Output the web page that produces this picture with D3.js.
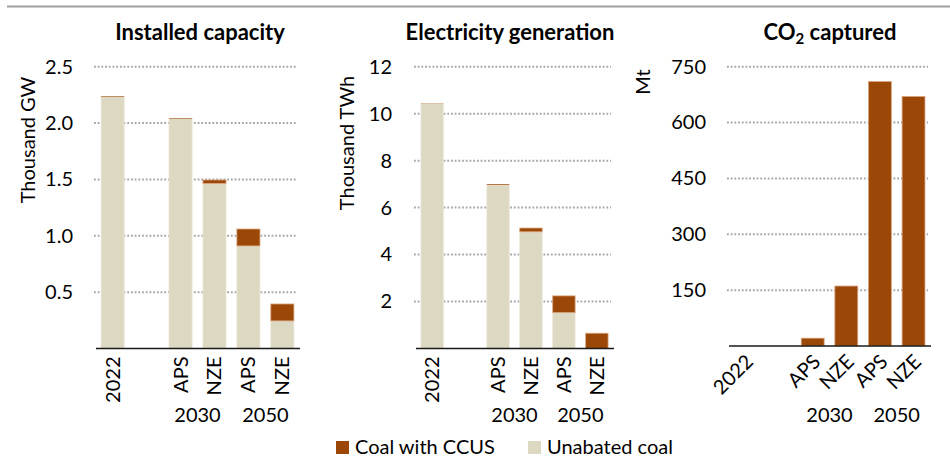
<!DOCTYPE html>
<html>
<head>
<meta charset="utf-8">
<script src="https://cdn.jsdelivr.net/npm/d3@7"></script>
<style>
  body { margin: 0; background: #fff; }
  svg { display: block; font-family: Lato, "Noto Sans", sans-serif; }
</style>
</head>
<body>
<svg id="chart" width="950" height="457"></svg>
<script>
// categories along each x axis (one empty slot after 2022)
const categories = ["2022", "gap", "APS 2030", "NZE 2030", "APS 2050", "NZE 2050"];
const tickLabels = ["2022", "", "APS", "NZE", "APS", "NZE"];
const groupLabels = ["2030", "2050"];

// installed capacity, thousand GW
const capacityUnabated = [2.235, 0, 2.04, 1.465, 0.91, 0.245];
const capacityCCUS = [0.005, 0, 0.005, 0.03, 0.15, 0.15];

// electricity generation, thousand TWh
const generationUnabated = [10.43, 0, 6.97, 4.97, 1.53, 0];
const generationCCUS = [0.01, 0, 0.03, 0.16, 0.71, 0.65];

// CO2 captured, Mt
const co2Captured = [0, 0, 21, 161, 710, 670];

const capacityTicks = [0.5, 1.0, 1.5, 2.0, 2.5];
const generationTicks = [2, 4, 6, 8, 10, 12];
const co2Ticks = [150, 300, 450, 600, 750];

const brown = "#9a4708";
const beige = "#ddd8c2";
const fs = 20;

const svg = d3.select("#chart");

// top rule
svg.append("line")
    .attr("x1", 7).attr("x2", 950)
    .attr("y1", 6.5).attr("y2", 6.5)
    .attr("stroke", "#a0a0a0")
    .attr("stroke-width", 2);

function drawPanel(opt) {
    const x = d3.scaleBand()
        .domain(categories)
        .range([opt.x0, opt.x1])
        .paddingInner(0.32)
        .paddingOuter(0.15);

    const y = d3.scaleLinear()
        .domain([0, opt.max])
        .range([opt.yBase, 66.7]);

    const g = svg.append("g");

    // title
    g.append("text")
        .attr("x", opt.titleX)
        .attr("y", 40)
        .attr("text-anchor", "middle")
        .attr("font-weight", "bold")
        .attr("font-size", 22)
        .attr("fill", "#000")
        .html(opt.title);

    // dotted gridlines
    g.selectAll(".grid")
        .data(opt.ticks)
        .enter().append("line")
        .attr("x1", opt.x0 - 2).attr("x2", opt.x1 - 2)
        .attr("y1", d => y(d)).attr("y2", d => y(d))
        .attr("stroke", "#a6a6a6")
        .attr("stroke-width", 2)
        .attr("stroke-dasharray", "1.8,1.9");

    // y axis tick labels, no axis line
    const yAxis = d3.axisLeft(y)
        .tickValues(opt.ticks)
        .tickSize(0)
        .tickPadding(0)
        .tickFormat(opt.fmt);
    const ya = g.append("g")
        .attr("transform", `translate(${opt.tickX},0)`)
        .call(yAxis);
    ya.select(".domain").remove();
    ya.selectAll("text")
        .attr("font-family", "Lato, 'Noto Sans', sans-serif")
        .attr("font-size", fs)
        .attr("fill", "#000");

    // y title
    g.append("text")
        .attr("transform", `translate(${opt.yTitleX},${opt.yTitleY}) rotate(-90)`)
        .attr("text-anchor", "middle")
        .attr("dy", "0.35em")
        .attr("font-size", fs)
        .text(opt.yTitle);

    // stacked bars
    const stack = categories.map((c, i) => ({
        key: c,
        unabated: opt.unabated[i],
        ccus: opt.ccus[i]
    })).filter(d => d.key !== "gap");

    g.selectAll(".unabated")
        .data(stack.filter(d => d.unabated > 0))
        .enter().append("rect")
        .attr("x", d => x(d.key))
        .attr("width", x.bandwidth())
        .attr("y", d => y(d.unabated))
        .attr("height", d => y(0) - y(d.unabated))
        .attr("fill", beige)
        .attr("stroke", "#ece6d8")
        .attr("stroke-width", 0.8);

    g.selectAll(".ccus")
        .data(stack.filter(d => d.ccus > 0))
        .enter().append("rect")
        .attr("x", d => x(d.key))
        .attr("width", x.bandwidth())
        .attr("y", d => y(d.unabated + d.ccus))
        .attr("height", d => y(d.unabated) - y(d.unabated + d.ccus))
        .attr("fill", brown)
        .attr("stroke", "#d9a47c")
        .attr("stroke-width", d => (y(d.unabated) - y(d.unabated + d.ccus)) < 2 ? 0 : 0.8);

    // baseline
    g.append("line")
        .attr("x1", opt.x0).attr("x2", opt.x1 + 1)
        .attr("y1", y(0)).attr("y2", y(0))
        .attr("stroke", "#1a1a1a")
        .attr("stroke-width", 1.5);

    // category labels
    const cx = d => x(d) + x.bandwidth() / 2;
    g.selectAll(".cat")
        .data(categories.filter(c => c !== "gap"))
        .enter().append("text")
        .attr("transform", d => opt.diag
            ? `translate(${cx(d) + 4},${y(0) + 12}) rotate(-45)`
            : `translate(${cx(d)},${y(0) + 8}) rotate(-90)`)
        .attr("text-anchor", "end")
        .attr("dy", "0.35em")
        .attr("font-size", fs)
        .text(d => tickLabels[categories.indexOf(d)]);

    // group year labels
    groupLabels.forEach((lab, k) => {
        const a = categories[2 + k * 2], b = categories[3 + k * 2];
        g.append("text")
            .attr("x", (cx(a) + cx(b)) / 2)
            .attr("y", 422)
            .attr("text-anchor", "middle")
            .attr("font-size", fs)
            .text(lab);
    });
}

drawPanel({
    title: "Installed capacity", titleX: 200,
    x0: 96, x1: 299, yBase: 348.5, max: 2.5,
    ticks: capacityTicks, fmt: d3.format(".1f"), tickX: 73,
    yTitle: "Thousand GW", yTitleX: 28, yTitleY: 140,
    unabated: capacityUnabated, ccus: capacityCCUS
});

drawPanel({
    title: "Electricity generation", titleX: 510,
    x0: 416, x1: 613, yBase: 348.5, max: 12,
    ticks: generationTicks, fmt: d3.format("d"), tickX: 392,
    yTitle: "Thousand TWh", yTitleX: 347, yTitleY: 143,
    unabated: generationUnabated, ccus: generationCCUS
});

drawPanel({
    title: "CO<tspan baseline-shift='-25%' font-size='15'>2</tspan> captured", titleX: 830,
    x0: 729, x1: 930, yBase: 346, max: 750,
    ticks: co2Ticks, fmt: d3.format("d"), tickX: 706,
    yTitle: "Mt", yTitleX: 643, yTitleY: 82,
    unabated: co2Captured.map(() => 0), ccus: co2Captured,
    diag: true
});

// legend
const legendItems = [
    { label: "Coal with CCUS", color: brown, x: 336 },
    { label: "Unabated coal", color: beige, x: 528 }
];
const legend = svg.selectAll(".legend")
    .data(legendItems)
    .enter().append("g")
    .attr("class", "legend")
    .attr("transform", d => `translate(${d.x},441)`);

legend.append("rect")
    .attr("width", 13)
    .attr("height", 13)
    .attr("fill", d => d.color);

legend.append("text")
    .attr("x", 19)
    .attr("y", 13)
    .attr("font-size", fs)
    .text(d => d.label);
</script>
</body>
</html>
